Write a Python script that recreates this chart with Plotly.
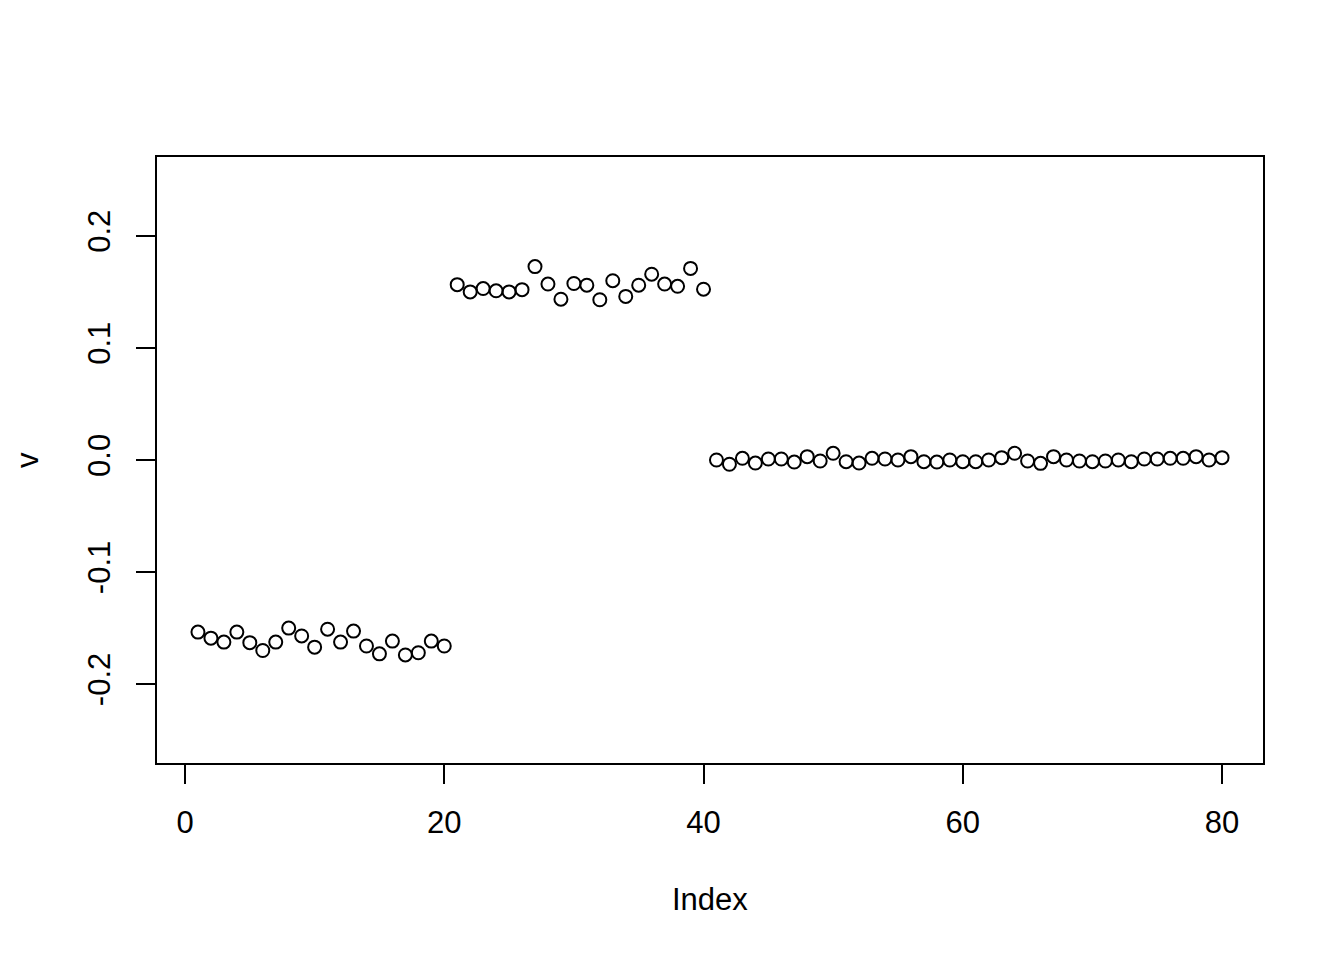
import plotly.graph_objects as go

# index 1..80, values
index = list(range(1, 81))

v_low = [
    -0.1536, -0.1590, -0.1625, -0.1536, -0.1630, -0.1700, -0.1625, -0.1500, -0.1570, -0.1670,
    -0.1510, -0.1625, -0.1527, -0.1660, -0.1730, -0.1616, -0.1740, -0.1720, -0.1616, -0.1660,
]
v_high = [
    0.1565, 0.1500, 0.1530, 0.1510, 0.1500, 0.1520, 0.1726, 0.1570, 0.1435, 0.1575,
    0.1560, 0.1430, 0.1600, 0.1460, 0.1560, 0.1658, 0.1570, 0.1550, 0.1710, 0.1524,
]
v_zero = [
    0.0000, -0.0038, 0.0015, -0.0027, 0.0009, 0.0009, -0.0018, 0.0030, -0.0009, 0.0060,
    -0.0015, -0.0027, 0.0015, 0.0009, 0.0000, 0.0030, -0.0015, -0.0018, 0.0000, -0.0015,
    -0.0015, 0.0000, 0.0021, 0.0060, -0.0009, -0.0030, 0.0030, 0.0000, -0.0009, -0.0015,
    -0.0009, 0.0000, -0.0015, 0.0009, 0.0009, 0.0015, 0.0015, 0.0030, 0.0000, 0.0021,
]
v = v_low + v_high + v_zero

x_ticks = [0, 20, 40, 60, 80]
y_ticks = [-0.2, -0.1, 0.0, 0.1, 0.2]
y_tick_text = ["-0.2", "-0.1", "0.0", "0.1", "0.2"]

FONT = "Liberation Sans, Arial, Helvetica, sans-serif"

fig = go.Figure()
fig.add_trace(go.Scatter(
    x=index, y=v, mode="markers",
    marker=dict(symbol="circle-open", size=13, color="black", line=dict(width=2)),
    showlegend=False,
))

axis_common = dict(
    showline=True, linecolor="black", linewidth=2, mirror=True,
    ticks="outside", ticklen=19, tickwidth=2, tickcolor="black",
    showgrid=False, zeroline=False,
    tickfont=dict(family=FONT, size=31, color="black"),
)

fig.update_xaxes(range=[-2.16, 83.16], tickvals=x_ticks, ticklabelstandoff=12, **axis_common)
fig.update_yaxes(range=[-0.2704, 0.2704], tickvals=y_ticks, ticktext=y_tick_text,
                 tickangle=-90, ticklabelstandoff=14, **axis_common)

# page body adds an 8px margin, so the figure is 8px smaller and shifted
fig.update_layout(
    width=1336, height=952,
    margin=dict(l=149, r=81, t=149, b=197),
    plot_bgcolor="white", paper_bgcolor="white",
    font=dict(family=FONT, size=31, color="black"),
    annotations=[
        dict(text="Index", xref="paper", yref="paper", x=0.5, y=0, yanchor="middle",
             yshift=-136, showarrow=False, font=dict(size=31)),
        dict(text="v", xref="paper", yref="paper", x=0, y=0.5, xanchor="center",
             xshift=-130, textangle=-90, showarrow=False, font=dict(size=31)),
    ],
)

fig.write_html("out.html")
